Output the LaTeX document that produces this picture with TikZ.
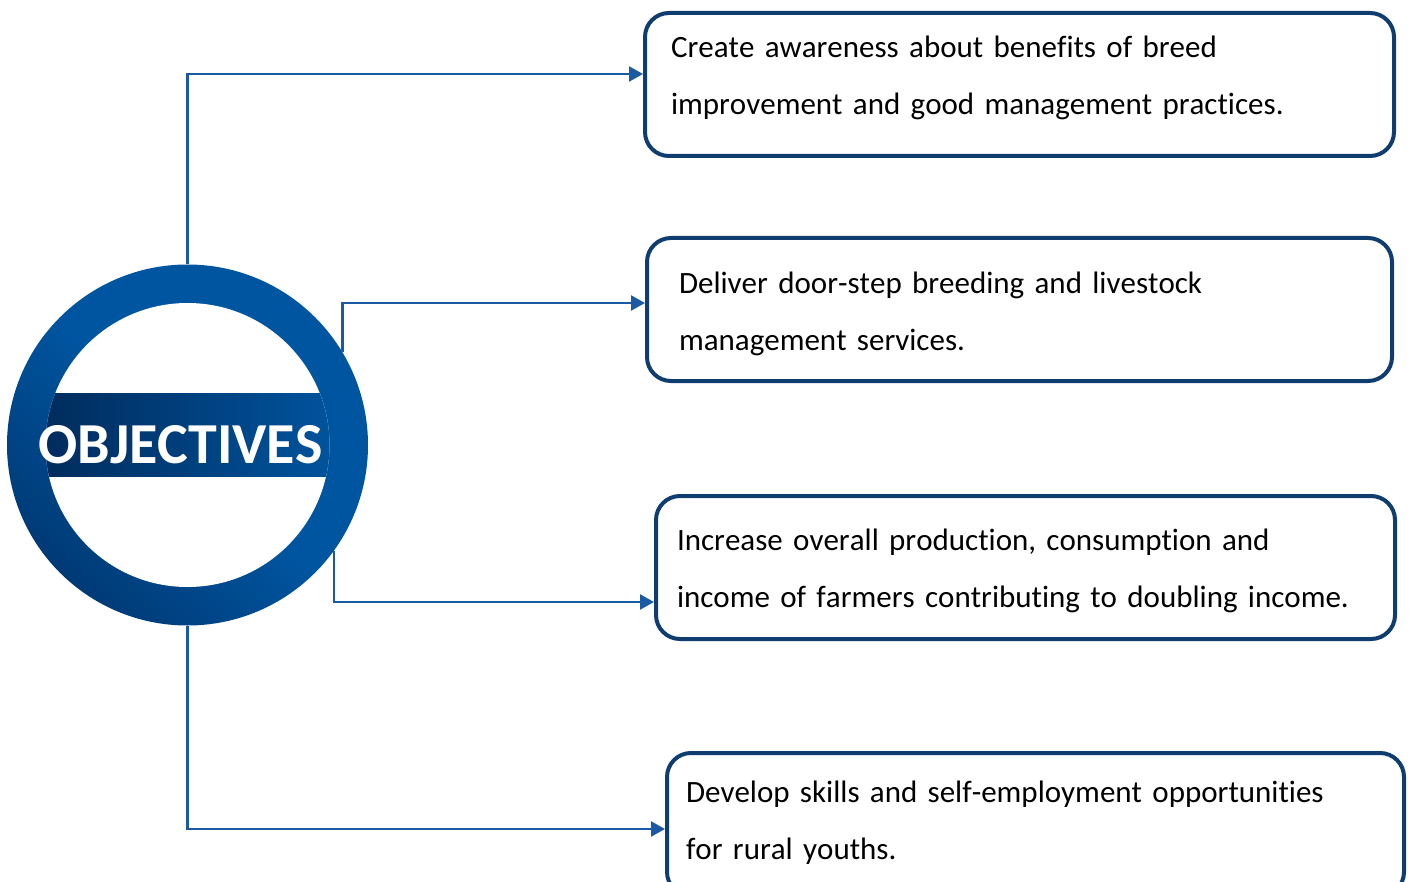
\documentclass[tikz,border=0pt]{standalone}
\usepackage{fontspec}
\setmainfont[Kerning=Off, Ligatures=NoCommon]{Carlito}
\usetikzlibrary{arrows.meta}

\definecolor{boxline}{HTML}{103D6F}
\definecolor{connblue}{HTML}{1B5AA3}
\definecolor{ringlight}{HTML}{0055A0}
\definecolor{ringdark}{HTML}{003A76}
\definecolor{banddark}{HTML}{002A5A}

\begin{document}
\begin{tikzpicture}[x=0.5pt, y=-0.5pt,
    objbox/.style={rectangle, draw=boxline, line width=2pt, rounded corners=12pt,
        align=left, inner ysep=0pt, font=\fontsize{15.5pt}{28.5pt}\selectfont},
    conn/.style={draw=connblue, line width=1.2pt, -{Triangle[length=7pt, width=7.5pt]}}]
        \useasboundingbox (0,0) rectangle (1413,882);

        %ring
        \node[circle, minimum size=180.5pt, inner sep=0pt] (obj) at (187.5,445) {};
        \shade[top color=ringlight, bottom color=ringdark, middle color=ringlight, shading angle=-45]
            (obj.center) circle (90.25pt);
        \fill[white] (obj.center) circle (71pt);
        \begin{scope}
            \clip (obj.center) circle (71pt);
            \shade[left color=banddark, right color=ringlight] (30,393) rectangle (345,476);
        \end{scope}
        \node[anchor=base, text=white, inner sep=0pt,
            font=\fontsize{29pt}{30pt}\selectfont\bfseries] (title) at (180.5,463) {OBJECTIVES};

        %boxes
        \node[objbox, inner xsep=13pt, text width=348.5pt, text height=22.5pt, text depth=49pt]
            (b1) at (1019.5,84.5) {Create awareness about benefits of breed\\improvement and good management practices.};
        \node[objbox, inner xsep=16pt, text width=340.5pt, text height=27.5pt, text depth=44pt]
            (b2) at (1019.5,309.5) {Deliver door-step breeding and livestock\\management services.};
        \node[objbox, inner xsep=10.5pt, text width=348.5pt, text height=27pt, text depth=44.5pt]
            (b3) at (1025.5,567.5) {Increase overall production, consumption and\\income of farmers contributing to doubling income.};
        \node[objbox, inner xsep=9.5pt, text width=349.5pt, text height=24.5pt, text depth=47pt]
            (b4) at (1035.5,824.5) {Develop skills and self-employment opportunities\\for rural youths.};

        %edges
        \draw[conn] (obj.north) |- ([yshift=5.25pt]b1.west);
        \draw[conn] (obj.31.75) |- ([yshift=3.25pt]b2.west);
        \draw[conn] (obj.-36.3) |- ([yshift=-17.25pt]b3.west);
        \draw[conn] (obj.south) |- ([yshift=-2.25pt]b4.west);
    \end{tikzpicture}
\end{document}
